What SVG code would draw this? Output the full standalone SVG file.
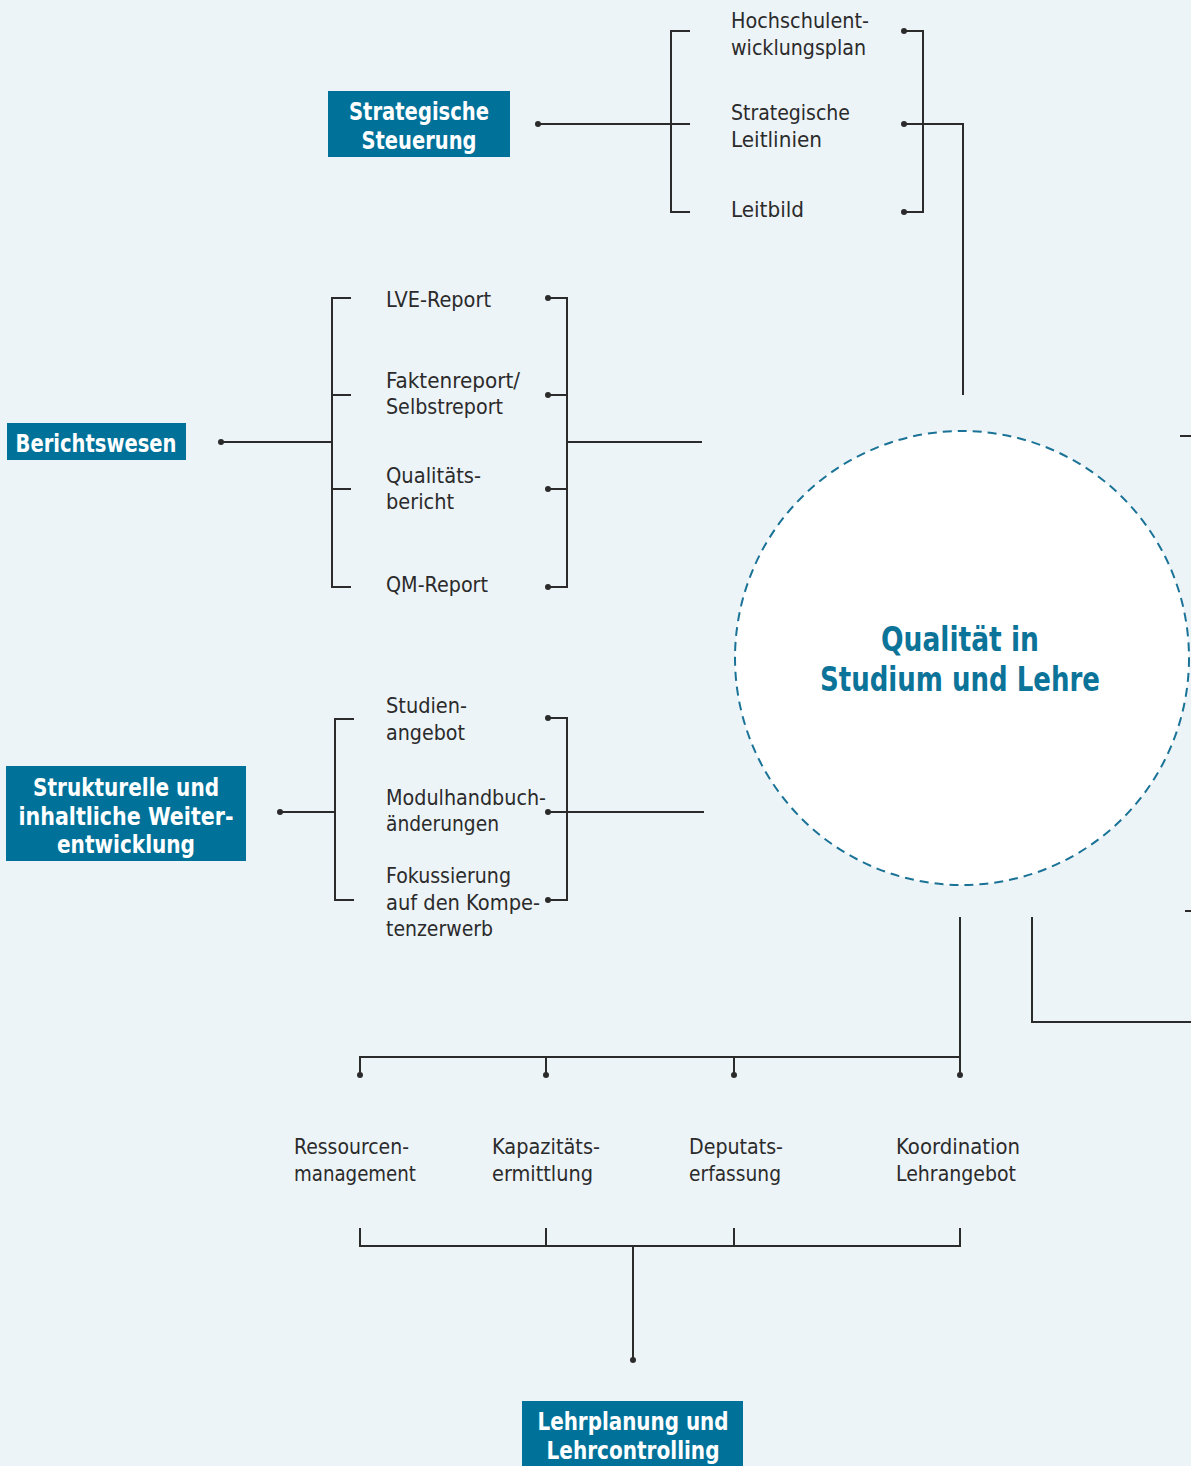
<svg xmlns="http://www.w3.org/2000/svg" width="1191" height="1466" viewBox="0 0 1191 1466">
<style>
.t{font-family:"DejaVu Sans Condensed","DejaVu Sans","Liberation Sans",sans-serif;font-size:22px;fill:#2b2b2b}
.b{font-family:"DejaVu Sans Condensed","DejaVu Sans","Liberation Sans",sans-serif;font-size:25px;font-weight:bold;fill:#ffffff;text-anchor:middle}
.c{font-family:"DejaVu Sans Condensed","DejaVu Sans","Liberation Sans",sans-serif;font-size:33px;font-weight:bold;fill:#0c7399;text-anchor:middle}
.box{fill:#00729a}
.ln{fill:none;stroke:#2b2b2b;stroke-width:2}
.dot{fill:#2b2b2b}
</style>
<rect width="1191" height="1466" fill="#edf4f8"/>

<g id="connectors">
  <!-- Strategische Steuerung -->
  <path class="ln" d="M538 124H690M690 31H671V212H690M904 31H923V212H904M904 124H963V395"/>
  <circle class="dot" cx="538" cy="124" r="3"/>
  <circle class="dot" cx="904" cy="31" r="3"/>
  <circle class="dot" cx="904" cy="124" r="3"/>
  <circle class="dot" cx="904" cy="212" r="3"/>
  <!-- Berichtswesen -->
  <path class="ln" d="M221 442H332M351 298H332V587H351M332 395H351M332 489H351M548 298H567V587H548M548 395H567M548 489H567M567 442H702"/>
  <circle class="dot" cx="221" cy="442" r="3"/>
  <circle class="dot" cx="548" cy="298" r="3"/>
  <circle class="dot" cx="548" cy="395" r="3"/>
  <circle class="dot" cx="548" cy="489" r="3"/>
  <circle class="dot" cx="548" cy="587" r="3"/>
  <!-- Strukturelle -->
  <path class="ln" d="M280 812H335M354 719H335V900H354M548 718H567V900H548M548 812H704"/>
  <circle class="dot" cx="280" cy="812" r="3"/>
  <circle class="dot" cx="548" cy="718" r="3"/>
  <circle class="dot" cx="548" cy="812" r="3"/>
  <circle class="dot" cx="548" cy="900" r="3"/>
  <!-- right edge stubs -->
  <path class="ln" d="M1180 436H1191M1185 911H1191"/>
  <!-- bottom -->
  <path class="ln" d="M960 917V1075M360 1075V1057H960M546 1057V1075M734 1057V1075"/>
  <path class="ln" d="M1032 917V1022H1191"/>
  <circle class="dot" cx="360" cy="1075" r="3"/>
  <circle class="dot" cx="546" cy="1075" r="3"/>
  <circle class="dot" cx="734" cy="1075" r="3"/>
  <circle class="dot" cx="960" cy="1075" r="3"/>
  <path class="ln" d="M360 1228V1246H960V1228M546 1228V1246M734 1228V1246M633 1246V1360"/>
  <circle class="dot" cx="633" cy="1360" r="3"/>
</g>

<g id="center">
  <circle cx="962" cy="658" r="227" fill="#ffffff" stroke="#1a7396" stroke-width="2" stroke-dasharray="9 6"/>
  <text class="c" x="960" y="651" textLength="158" lengthAdjust="spacingAndGlyphs">Qualität in</text>
  <text class="c" x="960" y="691" textLength="280" lengthAdjust="spacingAndGlyphs">Studium und Lehre</text>
</g>

<g id="strategische-steuerung">
  <rect class="box" x="328" y="91" width="182" height="66"/>
  <text class="b" x="419" y="120" textLength="140" lengthAdjust="spacingAndGlyphs">Strategische</text>
  <text class="b" x="419" y="149" textLength="115" lengthAdjust="spacingAndGlyphs">Steuerung</text>
</g>
<g id="hochschulentwicklungsplan">
  <text class="t" x="731" y="28" textLength="138" lengthAdjust="spacingAndGlyphs">Hochschulent-</text>
  <text class="t" x="731" y="55" textLength="135" lengthAdjust="spacingAndGlyphs">wicklungsplan</text>
</g>
<g id="strategische-leitlinien">
  <text class="t" x="731" y="120" textLength="119" lengthAdjust="spacingAndGlyphs">Strategische</text>
  <text class="t" x="731" y="147" textLength="91" lengthAdjust="spacingAndGlyphs">Leitlinien</text>
</g>
<g id="leitbild">
  <text class="t" x="731" y="217" textLength="73" lengthAdjust="spacingAndGlyphs">Leitbild</text>
</g>

<g id="berichtswesen">
  <rect class="box" x="7" y="423" width="179" height="37"/>
  <text class="b" x="96" y="452" textLength="161" lengthAdjust="spacingAndGlyphs">Berichtswesen</text>
</g>
<g id="lve-report">
  <text class="t" x="386" y="307" textLength="105" lengthAdjust="spacingAndGlyphs">LVE-Report</text>
</g>
<g id="faktenreport">
  <text class="t" x="386" y="388" textLength="134" lengthAdjust="spacingAndGlyphs">Faktenreport/</text>
  <text class="t" x="386" y="414" textLength="117" lengthAdjust="spacingAndGlyphs">Selbstreport</text>
</g>
<g id="qualitaetsbericht">
  <text class="t" x="386" y="483" textLength="95" lengthAdjust="spacingAndGlyphs">Qualitäts-</text>
  <text class="t" x="386" y="509" textLength="68" lengthAdjust="spacingAndGlyphs">bericht</text>
</g>
<g id="qm-report">
  <text class="t" x="386" y="592" textLength="102" lengthAdjust="spacingAndGlyphs">QM-Report</text>
</g>

<g id="strukturelle-weiterentwicklung">
  <rect class="box" x="6" y="766" width="240" height="95"/>
  <text class="b" x="126" y="796" textLength="186" lengthAdjust="spacingAndGlyphs">Strukturelle und</text>
  <text class="b" x="126" y="825" textLength="215" lengthAdjust="spacingAndGlyphs">inhaltliche Weiter-</text>
  <text class="b" x="126" y="853" textLength="138" lengthAdjust="spacingAndGlyphs">entwicklung</text>
</g>
<g id="studienangebot">
  <text class="t" x="386" y="713" textLength="81" lengthAdjust="spacingAndGlyphs">Studien-</text>
  <text class="t" x="386" y="740" textLength="79" lengthAdjust="spacingAndGlyphs">angebot</text>
</g>
<g id="modulhandbuchaenderungen">
  <text class="t" x="386" y="805" textLength="160" lengthAdjust="spacingAndGlyphs">Modulhandbuch-</text>
  <text class="t" x="386" y="831" textLength="113" lengthAdjust="spacingAndGlyphs">änderungen</text>
</g>
<g id="fokussierung">
  <text class="t" x="386" y="883" textLength="125" lengthAdjust="spacingAndGlyphs">Fokussierung</text>
  <text class="t" x="386" y="910" textLength="154" lengthAdjust="spacingAndGlyphs">auf den Kompe-</text>
  <text class="t" x="386" y="936" textLength="107" lengthAdjust="spacingAndGlyphs">tenzerwerb</text>
</g>

<g id="ressourcenmanagement">
  <text class="t" x="294" y="1154" textLength="115" lengthAdjust="spacingAndGlyphs">Ressourcen-</text>
  <text class="t" x="294" y="1181" textLength="122" lengthAdjust="spacingAndGlyphs">management</text>
</g>
<g id="kapazitaetsermittlung">
  <text class="t" x="492" y="1154" textLength="108" lengthAdjust="spacingAndGlyphs">Kapazitäts-</text>
  <text class="t" x="492" y="1181" textLength="101" lengthAdjust="spacingAndGlyphs">ermittlung</text>
</g>
<g id="deputatserfassung">
  <text class="t" x="689" y="1154" textLength="94" lengthAdjust="spacingAndGlyphs">Deputats-</text>
  <text class="t" x="689" y="1181" textLength="92" lengthAdjust="spacingAndGlyphs">erfassung</text>
</g>
<g id="koordination-lehrangebot">
  <text class="t" x="896" y="1154" textLength="124" lengthAdjust="spacingAndGlyphs">Koordination</text>
  <text class="t" x="896" y="1181" textLength="120" lengthAdjust="spacingAndGlyphs">Lehrangebot</text>
</g>

<g id="lehrplanung-lehrcontrolling">
  <rect class="box" x="522" y="1401" width="221" height="70"/>
  <text class="b" x="633" y="1430" textLength="191" lengthAdjust="spacingAndGlyphs">Lehrplanung und</text>
  <text class="b" x="633" y="1459" textLength="173" lengthAdjust="spacingAndGlyphs">Lehrcontrolling</text>
</g>
</svg>
